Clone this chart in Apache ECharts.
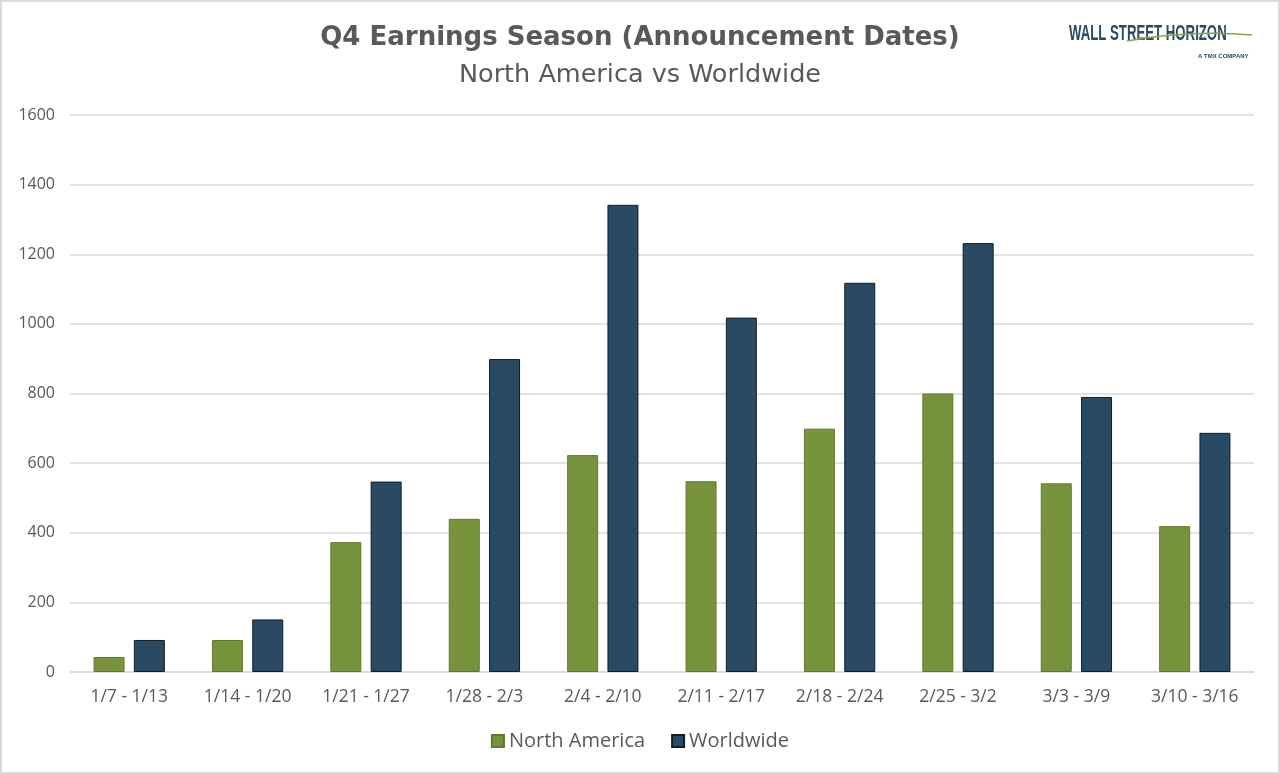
<!DOCTYPE html>
<html>
<head>
<meta charset="utf-8">
<script src="https://cdn.jsdelivr.net/npm/echarts@6/dist/echarts.min.js"></script>
<style>
  html, body { margin: 0; padding: 0; background: #fff; }
  #chart { width: 1280px; height: 774px; box-sizing: border-box; border: 2px solid #d9d9d9; }
</style>
</head>
<body>
<div id="chart"></div>
<script>
var weeks = ['1/7 - 1/13', '1/14 - 1/20', '1/21 - 1/27', '1/28 - 2/3', '2/4 - 2/10',
             '2/11 - 2/17', '2/18 - 2/24', '2/25 - 3/2', '3/3 - 3/9', '3/10 - 3/16'];
var northAmerica = [43, 92, 373, 440, 623, 548, 699, 800, 542, 419];
var worldwide = [92, 151, 547, 899, 1342, 1018, 1118, 1232, 790, 687];

var chart = echarts.init(document.getElementById('chart'));

var textColor = '#595959';

option = {
  backgroundColor: '#fff',
  animation: false,
  title: [
    {
      text: 'Q4 Earnings Season (Announcement Dates)',
      left: 'center',
      top: 18,
      textStyle: { fontFamily: 'DejaVu Sans', fontWeight: 'bold', fontSize: 26, color: textColor }
    },
    {
      text: 'North America vs Worldwide',
      left: 'center',
      top: 55,
      textStyle: { fontFamily: 'DejaVu Sans', fontWeight: 'normal', fontSize: 25.5, color: textColor }
    }
  ],
  graphic: [
    {
      type: 'text', x: 1067, y: 21, scaleX: 0.6,
      style: { text: 'WALL STREET HORIZON', fill: '#2a4a63', font: 'bold 22px "Liberation Sans"' }
    },
    {
      type: 'bezierCurve',
      shape: { x1: 1125, y1: 39, x2: 1250, y2: 33, cpx1: 1170, cpy1: 31, cpx2: 1215, cpy2: 30 },
      style: { stroke: '#8aa34a', lineWidth: 1.5, fill: null }
    },
    {
      type: 'text', x: 1196, y: 51,
      style: { text: 'A TMX COMPANY', fill: '#2a4a63', font: 'bold 6px "Liberation Sans"' }
    }
  ],
  legend: {
    bottom: 16,
    left: 'center',
    itemWidth: 12,
    itemHeight: 12,
    itemGap: 26,
    icon: 'rect',
    textStyle: { fontFamily: 'Open Sans', fontSize: 20, color: textColor },
    data: ['North America', 'Worldwide']
  },
  grid: { left: 68, right: 24, top: 113, bottom: 100 },
  xAxis: {
    type: 'category',
    data: weeks,
    axisLine: { show: true, lineStyle: { color: '#d9d9d9', width: 1.5 } },
    axisTick: { show: false },
    axisLabel: { fontFamily: 'Open Sans', fontSize: 17.5, color: textColor, margin: 16 }
  },
  yAxis: {
    type: 'value',
    min: 0,
    max: 1600,
    interval: 200,
    axisLine: { show: false },
    axisTick: { show: false },
    splitLine: { lineStyle: { color: '#d9d9d9', width: 1.5 } },
    axisLabel: {
      fontFamily: 'Open Sans', fontSize: 16, color: textColor, margin: 15,
      formatter: function (v) { return String(v); }
    }
  },
  series: [
    {
      name: 'North America',
      type: 'bar',
      data: northAmerica,
      barWidth: 31,
      barGap: '30%',
      itemStyle: { color: '#77933c', borderColor: '#5f7a2e', borderWidth: 1 }
    },
    {
      name: 'Worldwide',
      type: 'bar',
      data: worldwide,
      barWidth: 31,
      barGap: '30%',
      itemStyle: { color: '#2a4a63', borderColor: '#0f1f2c', borderWidth: 1 }
    }
  ]
};

chart.setOption(option);

window.addEventListener('resize', function() {
  chart.resize();
});
</script>
</body>
</html>
